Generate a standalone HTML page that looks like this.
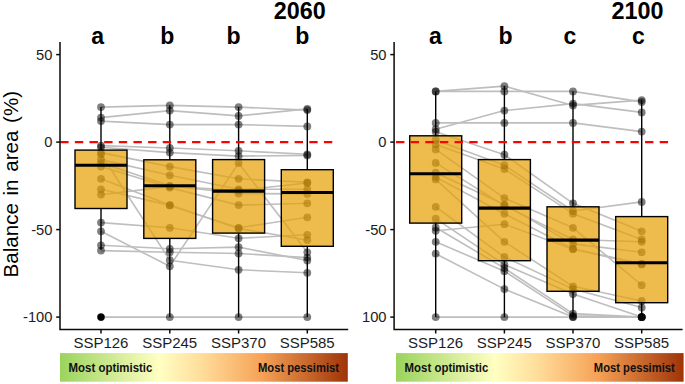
<!DOCTYPE html>
<html lang="en">
<head>
<meta charset="utf-8">
<title>Balance in area (%) - 2060 / 2100</title>
<style>
html,body{margin:0;padding:0;background:#fff;}
body{width:685px;height:384px;overflow:hidden;}
svg{display:block;}
</style>
</head>
<body>
<svg width="685" height="384" viewBox="0 0 685 384">
<defs>
<linearGradient id="g1" x1="0" y1="0" x2="1" y2="0">
<stop offset="0" stop-color="#9bd35e"/>
<stop offset="0.345" stop-color="#ffffc2"/>
<stop offset="0.5" stop-color="#ffdb98"/>
<stop offset="0.70" stop-color="#f6a257"/>
<stop offset="1" stop-color="#9e3408"/>
</linearGradient>
</defs>
<rect width="685" height="384" fill="#fff"/>
<text transform="translate(18.3,277.5) rotate(-90)" font-family="'Liberation Sans', Arial, sans-serif" font-size="20.6" fill="#000" word-spacing="1.9">Balance in area (%)</text>
<g fill="none" stroke="#bebebe" stroke-width="1.6" stroke-linejoin="round">
<polyline points="101,107.1 169.8,105.4 238.6,107.1 307.3,110.1"/>
<polyline points="101,117.6 169.8,110.6 238.6,115.9 307.3,108.9"/>
<polyline points="101,121.1 169.8,124.6 238.6,124.6 307.3,126.4"/>
<polyline points="101,145.6 169.8,148 238.6,150.8 307.3,154.3"/>
<polyline points="101,147.3 169.8,152.6 238.6,156.1 307.3,155.4"/>
<polyline points="101,152.6 169.8,166.6 238.6,178.8 307.3,182.3"/>
<polyline points="101,154.3 169.8,260.2 238.6,269.8 307.3,272.8"/>
<polyline points="101,159.6 169.8,175.3 238.6,189.3 307.3,189.3"/>
<polyline points="101,163.1 169.8,185.8 238.6,193.5 307.3,193.9"/>
<polyline points="101,166.6 169.8,187.6 238.6,205.1 307.3,203.3"/>
<polyline points="101,178.8 169.8,205.1 238.6,228.4 307.3,240.1"/>
<polyline points="101,189.3 169.8,205.4 238.6,227.8 307.3,217.3"/>
<polyline points="101,194.6 169.8,186.5 238.6,190.4 307.3,183"/>
<polyline points="101,222.6 169.8,227.8 238.6,238.3 307.3,234.8"/>
<polyline points="101,231.3 169.8,266.3 238.6,163.1 307.3,252.3"/>
<polyline points="101,245.3 169.8,248.8 238.6,247.1 307.3,260.5"/>
<polyline points="101,250.6 169.8,252.3 238.6,253.5 307.3,257.6"/>
<polyline points="101,317.1 169.8,317.1 238.6,317.1 307.3,317.1"/>
</g>
<g fill="#000" fill-opacity="0.5">
<circle cx="101" cy="107.1" r="3.9"/>
<circle cx="169.8" cy="105.4" r="3.9"/>
<circle cx="238.6" cy="107.1" r="3.9"/>
<circle cx="307.3" cy="110.1" r="3.9"/>
<circle cx="101" cy="117.6" r="3.9"/>
<circle cx="169.8" cy="110.6" r="3.9"/>
<circle cx="238.6" cy="115.9" r="3.9"/>
<circle cx="307.3" cy="108.9" r="3.9"/>
<circle cx="101" cy="121.1" r="3.9"/>
<circle cx="169.8" cy="124.6" r="3.9"/>
<circle cx="238.6" cy="124.6" r="3.9"/>
<circle cx="307.3" cy="126.4" r="3.9"/>
<circle cx="101" cy="145.6" r="3.9"/>
<circle cx="169.8" cy="148" r="3.9"/>
<circle cx="238.6" cy="150.8" r="3.9"/>
<circle cx="307.3" cy="154.3" r="3.9"/>
<circle cx="101" cy="147.3" r="3.9"/>
<circle cx="169.8" cy="152.6" r="3.9"/>
<circle cx="238.6" cy="156.1" r="3.9"/>
<circle cx="307.3" cy="155.4" r="3.9"/>
<circle cx="101" cy="152.6" r="3.9"/>
<circle cx="169.8" cy="166.6" r="3.9"/>
<circle cx="238.6" cy="178.8" r="3.9"/>
<circle cx="307.3" cy="182.3" r="3.9"/>
<circle cx="101" cy="154.3" r="3.9"/>
<circle cx="169.8" cy="260.2" r="3.9"/>
<circle cx="238.6" cy="269.8" r="3.9"/>
<circle cx="307.3" cy="272.8" r="3.9"/>
<circle cx="101" cy="159.6" r="3.9"/>
<circle cx="169.8" cy="175.3" r="3.9"/>
<circle cx="238.6" cy="189.3" r="3.9"/>
<circle cx="307.3" cy="189.3" r="3.9"/>
<circle cx="101" cy="163.1" r="3.9"/>
<circle cx="169.8" cy="185.8" r="3.9"/>
<circle cx="238.6" cy="193.5" r="3.9"/>
<circle cx="307.3" cy="193.9" r="3.9"/>
<circle cx="101" cy="166.6" r="3.9"/>
<circle cx="169.8" cy="187.6" r="3.9"/>
<circle cx="238.6" cy="205.1" r="3.9"/>
<circle cx="307.3" cy="203.3" r="3.9"/>
<circle cx="101" cy="178.8" r="3.9"/>
<circle cx="169.8" cy="205.1" r="3.9"/>
<circle cx="238.6" cy="228.4" r="3.9"/>
<circle cx="307.3" cy="240.1" r="3.9"/>
<circle cx="101" cy="189.3" r="3.9"/>
<circle cx="169.8" cy="205.4" r="3.9"/>
<circle cx="238.6" cy="227.8" r="3.9"/>
<circle cx="307.3" cy="217.3" r="3.9"/>
<circle cx="101" cy="194.6" r="3.9"/>
<circle cx="169.8" cy="186.5" r="3.9"/>
<circle cx="238.6" cy="190.4" r="3.9"/>
<circle cx="307.3" cy="183" r="3.9"/>
<circle cx="101" cy="222.6" r="3.9"/>
<circle cx="169.8" cy="227.8" r="3.9"/>
<circle cx="238.6" cy="238.3" r="3.9"/>
<circle cx="307.3" cy="234.8" r="3.9"/>
<circle cx="101" cy="231.3" r="3.9"/>
<circle cx="169.8" cy="266.3" r="3.9"/>
<circle cx="238.6" cy="163.1" r="3.9"/>
<circle cx="307.3" cy="252.3" r="3.9"/>
<circle cx="101" cy="245.3" r="3.9"/>
<circle cx="169.8" cy="248.8" r="3.9"/>
<circle cx="238.6" cy="247.1" r="3.9"/>
<circle cx="307.3" cy="260.5" r="3.9"/>
<circle cx="101" cy="250.6" r="3.9"/>
<circle cx="169.8" cy="252.3" r="3.9"/>
<circle cx="238.6" cy="253.5" r="3.9"/>
<circle cx="307.3" cy="257.6" r="3.9"/>
<circle cx="101" cy="317.1" r="3.9"/>
<circle cx="169.8" cy="317.1" r="3.9"/>
<circle cx="238.6" cy="317.1" r="3.9"/>
<circle cx="307.3" cy="317.1" r="3.9"/>
</g>
<g stroke="#000" stroke-width="1.4">
<line x1="101" y1="107.1" x2="101" y2="150.1"/>
<line x1="101" y1="208.6" x2="101" y2="249.7"/>
<rect x="75" y="150.1" width="52" height="58.4" fill="#E69F00" fill-opacity="0.7"/>
<line x1="75" y1="165.2" x2="127" y2="165.2" stroke-width="3.1"/>
</g>
<circle cx="101" cy="317.1" r="3.6" fill="#000"/>
<g stroke="#000" stroke-width="1.4">
<line x1="169.8" y1="105.4" x2="169.8" y2="159.8"/>
<line x1="169.8" y1="238.3" x2="169.8" y2="317.1"/>
<rect x="143.8" y="159.8" width="52" height="78.6" fill="#E69F00" fill-opacity="0.7"/>
<line x1="143.8" y1="185.8" x2="195.8" y2="185.8" stroke-width="3.1"/>
</g>
<g stroke="#000" stroke-width="1.4">
<line x1="238.6" y1="107.1" x2="238.6" y2="159.6"/>
<line x1="238.6" y1="233.1" x2="238.6" y2="317.1"/>
<rect x="212.6" y="159.6" width="52" height="73.5" fill="#E69F00" fill-opacity="0.7"/>
<line x1="212.6" y1="191.1" x2="264.6" y2="191.1" stroke-width="3.1"/>
</g>
<g stroke="#000" stroke-width="1.4">
<line x1="307.3" y1="108.9" x2="307.3" y2="169.7"/>
<line x1="307.3" y1="246.4" x2="307.3" y2="317.1"/>
<rect x="281.3" y="169.7" width="52" height="76.6" fill="#E69F00" fill-opacity="0.7"/>
<line x1="281.3" y1="192.5" x2="333.3" y2="192.5" stroke-width="3.1"/>
</g>
<line x1="60.2" y1="142.1" x2="332.3" y2="142.1" stroke="#ff0000" stroke-width="2.1" stroke-dasharray="8.4 6.25"/>
<g stroke="#0a0a0a" stroke-width="1.5" fill="none">
<polyline points="60,42 60,329.5 348.2,329.5"/>
<line x1="56.2" y1="54.6" x2="60" y2="54.6"/>
<line x1="56.2" y1="142.1" x2="60" y2="142.1"/>
<line x1="56.2" y1="229.6" x2="60" y2="229.6"/>
<line x1="56.2" y1="317.1" x2="60" y2="317.1"/>
<line x1="101" y1="329.5" x2="101" y2="333.5"/>
<line x1="169.8" y1="329.5" x2="169.8" y2="333.5"/>
<line x1="238.6" y1="329.5" x2="238.6" y2="333.5"/>
<line x1="307.3" y1="329.5" x2="307.3" y2="333.5"/>
</g>
<g font-family="'Liberation Sans', Arial, sans-serif" font-size="14.7" fill="#1c1c1c" text-anchor="end">
<text x="52.4" y="59.7">50</text>
<text x="52.4" y="147.2">0</text>
<text x="52.4" y="234.7">-50</text>
<text x="52.4" y="322.2">-100</text>
</g>
<g font-family="'Liberation Sans', Arial, sans-serif" font-size="15" fill="#1c1c1c" text-anchor="middle">
<text x="100.9" y="348.2">SSP126</text>
<text x="169.7" y="348.2">SSP245</text>
<text x="238.5" y="348.2">SSP370</text>
<text x="307.2" y="348.2">SSP585</text>
</g>
<rect x="60" y="353.1" width="287.8" height="28.6" fill="url(#g1)"/>
<g font-family="'Liberation Sans', Arial, sans-serif" font-size="12.1" font-weight="bold" fill="#111">
<text x="68.6" y="371.5" textLength="83.8" lengthAdjust="spacingAndGlyphs">Most optimistic</text>
<text x="258" y="371.5" textLength="81" lengthAdjust="spacingAndGlyphs">Most pessimist</text>
</g>
<g font-family="'Liberation Sans', Arial, sans-serif" font-weight="bold" fill="#000">
<text x="273.8" y="18.8" font-size="24.3" textLength="52" lengthAdjust="spacingAndGlyphs">2060</text>
<text transform="translate(97.6,44.0) scale(0.93,1)" font-size="24.8" text-anchor="middle">a</text>
<text transform="translate(167.2,44.0) scale(0.93,1)" font-size="24.8" text-anchor="middle">b</text>
<text transform="translate(233.6,44.0) scale(0.93,1)" font-size="24.8" text-anchor="middle">b</text>
<text transform="translate(302.4,44.0) scale(0.93,1)" font-size="24.8" text-anchor="middle">b</text>
</g>
<g fill="none" stroke="#bebebe" stroke-width="1.6" stroke-linejoin="round">
<polyline points="435.7,91.4 504.4,86.1 573,105.4 641.7,100.1"/>
<polyline points="435.7,91.4 504.4,91.4 573,91.4 641.7,101.9"/>
<polyline points="435.7,122.9 504.4,122.9 573,122.9 641.7,131.6"/>
<polyline points="435.7,129.2 504.4,110.6 573,103.6 641.7,112.4"/>
<polyline points="435.7,131.8 504.4,154.7 573,203.3 641.7,231.3"/>
<polyline points="435.7,140 504.4,165.2 573,211 641.7,201.9"/>
<polyline points="435.7,144.4 504.4,169 573,213.7 641.7,239.5"/>
<polyline points="435.7,149.4 504.4,198.1 573,227.8 641.7,285.2"/>
<polyline points="435.7,162.9 504.4,205.6 573,239.5 641.7,241.8"/>
<polyline points="435.7,172.7 504.4,204.6 573,243.9 641.7,252.3"/>
<polyline points="435.7,177.1 504.4,213.7 573,248.8 641.7,263.7"/>
<polyline points="435.7,179.4 504.4,241.8 573,286.3 641.7,301"/>
<polyline points="435.7,206.8 504.4,257 573,289.1 641.7,307.6"/>
<polyline points="435.7,218.7 504.4,264.6 573,294 641.7,317.1"/>
<polyline points="435.7,227.5 504.4,268.1 573,313.6 641.7,317.1"/>
<polyline points="435.7,230.8 504.4,224.2 573,249.2 641.7,264.4"/>
<polyline points="435.7,241.8 504.4,271.2 573,315.8 641.7,317.1"/>
<polyline points="435.7,253.7 504.4,289.1 573,317.1 641.7,317.1"/>
<polyline points="435.7,317.1 504.4,317.1 573,317.1 641.7,317.1"/>
</g>
<g fill="#000" fill-opacity="0.5">
<circle cx="435.7" cy="91.4" r="3.9"/>
<circle cx="504.4" cy="86.1" r="3.9"/>
<circle cx="573" cy="105.4" r="3.9"/>
<circle cx="641.7" cy="100.1" r="3.9"/>
<circle cx="435.7" cy="91.4" r="3.9"/>
<circle cx="504.4" cy="91.4" r="3.9"/>
<circle cx="573" cy="91.4" r="3.9"/>
<circle cx="641.7" cy="101.9" r="3.9"/>
<circle cx="435.7" cy="122.9" r="3.9"/>
<circle cx="504.4" cy="122.9" r="3.9"/>
<circle cx="573" cy="122.9" r="3.9"/>
<circle cx="641.7" cy="131.6" r="3.9"/>
<circle cx="435.7" cy="129.2" r="3.9"/>
<circle cx="504.4" cy="110.6" r="3.9"/>
<circle cx="573" cy="103.6" r="3.9"/>
<circle cx="641.7" cy="112.4" r="3.9"/>
<circle cx="435.7" cy="131.8" r="3.9"/>
<circle cx="504.4" cy="154.7" r="3.9"/>
<circle cx="573" cy="203.3" r="3.9"/>
<circle cx="641.7" cy="231.3" r="3.9"/>
<circle cx="435.7" cy="140" r="3.9"/>
<circle cx="504.4" cy="165.2" r="3.9"/>
<circle cx="573" cy="211" r="3.9"/>
<circle cx="641.7" cy="201.9" r="3.9"/>
<circle cx="435.7" cy="144.4" r="3.9"/>
<circle cx="504.4" cy="169" r="3.9"/>
<circle cx="573" cy="213.7" r="3.9"/>
<circle cx="641.7" cy="239.5" r="3.9"/>
<circle cx="435.7" cy="149.4" r="3.9"/>
<circle cx="504.4" cy="198.1" r="3.9"/>
<circle cx="573" cy="227.8" r="3.9"/>
<circle cx="641.7" cy="285.2" r="3.9"/>
<circle cx="435.7" cy="162.9" r="3.9"/>
<circle cx="504.4" cy="205.6" r="3.9"/>
<circle cx="573" cy="239.5" r="3.9"/>
<circle cx="641.7" cy="241.8" r="3.9"/>
<circle cx="435.7" cy="172.7" r="3.9"/>
<circle cx="504.4" cy="204.6" r="3.9"/>
<circle cx="573" cy="243.9" r="3.9"/>
<circle cx="641.7" cy="252.3" r="3.9"/>
<circle cx="435.7" cy="177.1" r="3.9"/>
<circle cx="504.4" cy="213.7" r="3.9"/>
<circle cx="573" cy="248.8" r="3.9"/>
<circle cx="641.7" cy="263.7" r="3.9"/>
<circle cx="435.7" cy="179.4" r="3.9"/>
<circle cx="504.4" cy="241.8" r="3.9"/>
<circle cx="573" cy="286.3" r="3.9"/>
<circle cx="641.7" cy="301" r="3.9"/>
<circle cx="435.7" cy="206.8" r="3.9"/>
<circle cx="504.4" cy="257" r="3.9"/>
<circle cx="573" cy="289.1" r="3.9"/>
<circle cx="641.7" cy="307.6" r="3.9"/>
<circle cx="435.7" cy="218.7" r="3.9"/>
<circle cx="504.4" cy="264.6" r="3.9"/>
<circle cx="573" cy="294" r="3.9"/>
<circle cx="641.7" cy="317.1" r="3.9"/>
<circle cx="435.7" cy="227.5" r="3.9"/>
<circle cx="504.4" cy="268.1" r="3.9"/>
<circle cx="573" cy="313.6" r="3.9"/>
<circle cx="641.7" cy="317.1" r="3.9"/>
<circle cx="435.7" cy="230.8" r="3.9"/>
<circle cx="504.4" cy="224.2" r="3.9"/>
<circle cx="573" cy="249.2" r="3.9"/>
<circle cx="641.7" cy="264.4" r="3.9"/>
<circle cx="435.7" cy="241.8" r="3.9"/>
<circle cx="504.4" cy="271.2" r="3.9"/>
<circle cx="573" cy="315.8" r="3.9"/>
<circle cx="641.7" cy="317.1" r="3.9"/>
<circle cx="435.7" cy="253.7" r="3.9"/>
<circle cx="504.4" cy="289.1" r="3.9"/>
<circle cx="573" cy="317.1" r="3.9"/>
<circle cx="641.7" cy="317.1" r="3.9"/>
<circle cx="435.7" cy="317.1" r="3.9"/>
<circle cx="504.4" cy="317.1" r="3.9"/>
<circle cx="573" cy="317.1" r="3.9"/>
<circle cx="641.7" cy="317.1" r="3.9"/>
</g>
<g stroke="#000" stroke-width="1.4">
<line x1="435.7" y1="91.4" x2="435.7" y2="135.8"/>
<line x1="435.7" y1="223.1" x2="435.7" y2="317.1"/>
<rect x="409.7" y="135.8" width="52" height="87.3" fill="#E69F00" fill-opacity="0.7"/>
<line x1="409.7" y1="173.8" x2="461.7" y2="173.8" stroke-width="3.1"/>
</g>
<g stroke="#000" stroke-width="1.4">
<line x1="504.4" y1="86.1" x2="504.4" y2="159.6"/>
<line x1="504.4" y1="260.7" x2="504.4" y2="317.1"/>
<rect x="478.4" y="159.6" width="52" height="101.1" fill="#E69F00" fill-opacity="0.7"/>
<line x1="478.4" y1="208.1" x2="530.4" y2="208.1" stroke-width="3.1"/>
</g>
<g stroke="#000" stroke-width="1.4">
<line x1="573" y1="91.4" x2="573" y2="206.8"/>
<line x1="573" y1="291.3" x2="573" y2="317.1"/>
<rect x="547" y="206.8" width="52" height="84.5" fill="#E69F00" fill-opacity="0.7"/>
<line x1="547" y1="240.1" x2="599" y2="240.1" stroke-width="3.1"/>
</g>
<g stroke="#000" stroke-width="1.4">
<line x1="641.7" y1="100.1" x2="641.7" y2="216.6"/>
<line x1="641.7" y1="302.7" x2="641.7" y2="317.1"/>
<rect x="615.7" y="216.6" width="52" height="86.1" fill="#E69F00" fill-opacity="0.7"/>
<line x1="615.7" y1="262.8" x2="667.7" y2="262.8" stroke-width="3.1"/>
</g>
<line x1="396" y1="142.1" x2="668.1" y2="142.1" stroke="#ff0000" stroke-width="2.1" stroke-dasharray="8.4 6.25"/>
<g stroke="#0a0a0a" stroke-width="1.5" fill="none">
<polyline points="394.1,42 394.1,329.5 682.6,329.5"/>
<line x1="390.3" y1="54.6" x2="394.1" y2="54.6"/>
<line x1="390.3" y1="142.1" x2="394.1" y2="142.1"/>
<line x1="390.3" y1="229.6" x2="394.1" y2="229.6"/>
<line x1="390.3" y1="317.1" x2="394.1" y2="317.1"/>
<line x1="435.7" y1="329.5" x2="435.7" y2="333.5"/>
<line x1="504.4" y1="329.5" x2="504.4" y2="333.5"/>
<line x1="573" y1="329.5" x2="573" y2="333.5"/>
<line x1="641.7" y1="329.5" x2="641.7" y2="333.5"/>
</g>
<g font-family="'Liberation Sans', Arial, sans-serif" font-size="14.7" fill="#1c1c1c" text-anchor="end">
<text x="386.5" y="59.7">50</text>
<text x="386.5" y="147.2">0</text>
<text x="386.5" y="234.7">-50</text>
<text x="386.5" y="322.2">100</text>
</g>
<g font-family="'Liberation Sans', Arial, sans-serif" font-size="15" fill="#1c1c1c" text-anchor="middle">
<text x="435.6" y="348.2">SSP126</text>
<text x="504.3" y="348.2">SSP245</text>
<text x="572.9" y="348.2">SSP370</text>
<text x="641.6" y="348.2">SSP585</text>
</g>
<rect x="396" y="353.1" width="287.6" height="28.6" fill="url(#g1)"/>
<g font-family="'Liberation Sans', Arial, sans-serif" font-size="12.1" font-weight="bold" fill="#111">
<text x="404.6" y="371.5" textLength="83.8" lengthAdjust="spacingAndGlyphs">Most optimistic</text>
<text x="593.8" y="371.5" textLength="81" lengthAdjust="spacingAndGlyphs">Most pessimist</text>
</g>
<g font-family="'Liberation Sans', Arial, sans-serif" font-weight="bold" fill="#000">
<text x="611.6" y="18.8" font-size="24.3" textLength="52" lengthAdjust="spacingAndGlyphs">2100</text>
<text transform="translate(435.3,44.0) scale(0.93,1)" font-size="24.8" text-anchor="middle">a</text>
<text transform="translate(505.5,44.0) scale(0.93,1)" font-size="24.8" text-anchor="middle">b</text>
<text transform="translate(570,44.0) scale(0.93,1)" font-size="24.8" text-anchor="middle">c</text>
<text transform="translate(638.3,44.0) scale(0.93,1)" font-size="24.8" text-anchor="middle">c</text>
</g>
</svg>
</body>
</html>
